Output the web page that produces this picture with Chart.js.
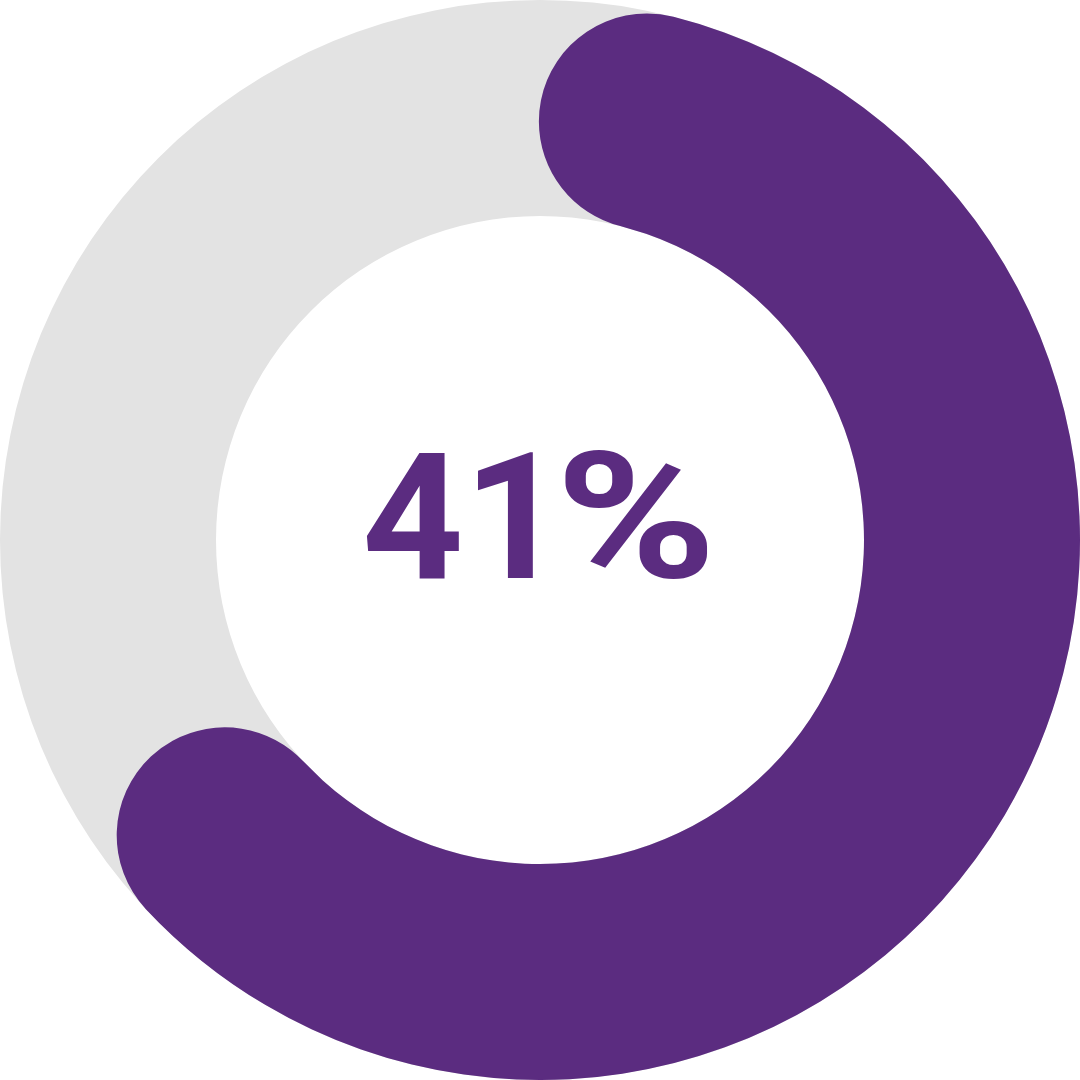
<!DOCTYPE html>
<html>
<head>
<meta charset="utf-8">
<script src="https://cdn.jsdelivr.net/npm/chart.js@4"></script>
<style>
  html, body { margin: 0; padding: 0; background: #ffffff; }
  #wrap { width: 1080px; height: 1080px; position: relative; }
</style>
</head>
<body>
<div id="wrap"><canvas id="ring"></canvas></div>
<script>
// values
const segments = ["Filled", "Remaining"];
const segmentValues = [67, 33];
const centerLabel = "41%";

const purple = "#5b2c80";
const track = "#e3e3e3";

// grey track drawn behind the arc, using the arc's own radii
const trackPlugin = {
  id: "track",
  beforeDatasetsDraw(chart) {
    const arc = chart.getDatasetMeta(0).data[0];
    if (!arc) return;
    const { x, y, innerRadius, outerRadius } = arc.getProps(["x", "y", "innerRadius", "outerRadius"], true);
    const ctx = chart.ctx;
    ctx.save();
    ctx.beginPath();
    ctx.arc(x, y, outerRadius, 0, Math.PI * 2);
    ctx.arc(x, y, innerRadius, 0, Math.PI * 2, true);
    ctx.fillStyle = track;
    ctx.fill("evenodd");
    ctx.restore();
  }
};

// big label in the hole. digits start 174px left of centre, baseline 38px below;
// the % sign is fitted to its own ink box (left, width, top, bottom from centre)
const percentBox = [25, 143, -89, 39];

const labelPlugin = {
  id: "centerLabel",
  afterDraw(chart) {
    const arc = chart.getDatasetMeta(0).data[0];
    const ctx = chart.ctx;
    const digits = centerLabel.slice(0, -1);
    const sign = centerLabel.slice(-1);
    ctx.save();
    ctx.font = "700 177px Roboto";
    ctx.fillStyle = purple;
    ctx.textAlign = "left";
    ctx.textBaseline = "alphabetic";
    const m = ctx.measureText(digits);
    ctx.fillText(digits, arc.x - 174 + m.actualBoundingBoxLeft, arc.y + 38);

    const p = ctx.measureText(sign);
    const inkW = p.actualBoundingBoxLeft + p.actualBoundingBoxRight;
    const inkH = p.actualBoundingBoxAscent + p.actualBoundingBoxDescent;
    const [left, w, top, bottom] = percentBox;
    ctx.translate(arc.x + left, arc.y + top);
    ctx.scale(w / inkW, (bottom - top) / inkH);
    ctx.fillText(sign, p.actualBoundingBoxLeft, p.actualBoundingBoxAscent);
    ctx.restore();
  }
};

new Chart(document.getElementById("ring"), {
  type: "doughnut",
  data: {
    labels: segments,
    datasets: [{
      data: segmentValues,
      backgroundColor: [purple, "rgba(0,0,0,0)"],
      borderWidth: 0,
      borderRadius: ctx => ctx.dataIndex === 0 ? 200 : 0,
      hoverOffset: 0
    }]
  },
  options: {
    responsive: true,
    maintainAspectRatio: false,
    animation: false,
    cutout: "60%",
    layout: { padding: 0 },
    events: [],
    plugins: {
      legend: { display: false },
      tooltip: { enabled: false }
    }
  },
  plugins: [trackPlugin, labelPlugin]
});
</script>
</body>
</html>
